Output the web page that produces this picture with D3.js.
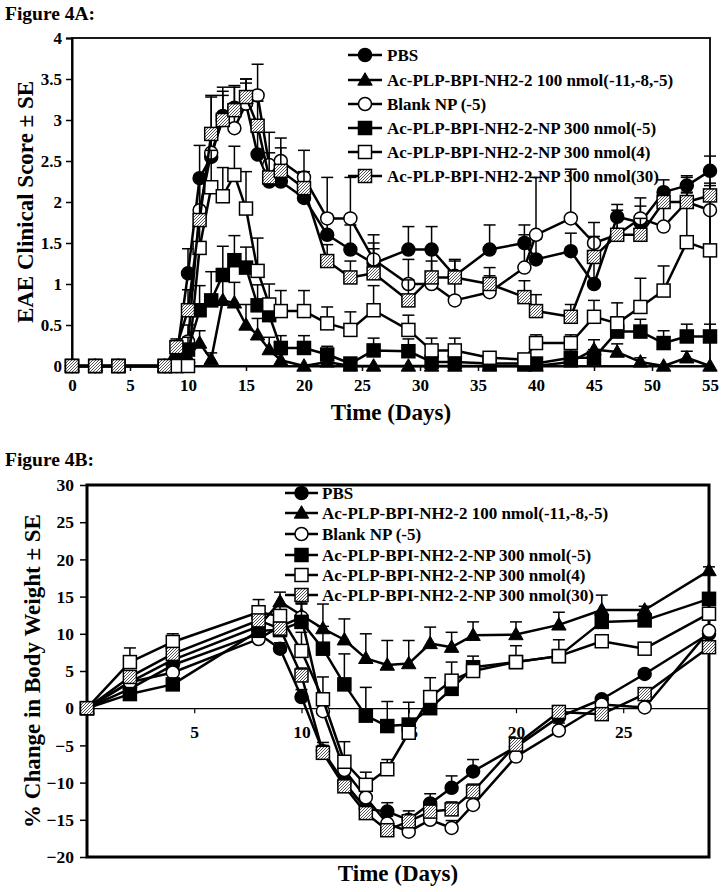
<!DOCTYPE html>
<html><head><meta charset="utf-8">
<script src="https://cdn.jsdelivr.net/npm/d3@7"></script>
<style>
body{margin:0;background:#fff}
text{font-family:"Liberation Serif","Times New Roman",serif;font-weight:bold;fill:#000}
</style>
</head><body>
<svg id="c" width="724" height="892"></svg>
<script>
// ---------- DATA ----------
const seriesNames = [
  "PBS",
  "Ac-PLP-BPI-NH2-2 100 nmol(-11,-8,-5)",
  "Blank NP (-5)",
  "Ac-PLP-BPI-NH2-2-NP 300 nmol(-5)",
  "Ac-PLP-BPI-NH2-2-NP 300 nmol(4)",
  "Ac-PLP-BPI-NH2-2-NP 300 nmol(30)"
];
const seriesSymbols = ["circleFilled","triangle","circleOpen","squareFilled","squareOpen","squareHatched"];

// Figure 4A: EAE clinical score
const daysA = [0,2,4,8,9,10,11,12,13,14,15,16,17,18,20,22,24,26,29,31,33,36,39,40,43,45,47,49,51,53,55];
const pbsA    = [0,0,0,0,0.1,1.13,2.29,2.55,3.05,3.15,3.2,2.58,2.25,2.25,2.05,1.6,1.42,1.25,1.42,1.42,1.1,1.42,1.5,1.3,1.4,1.0,1.82,1.75,2.12,2.2,2.38];
const pbsA_se = [0,0,0,0,0.1,0.3,0.4,0.35,0.35,0.25,0.25,0.35,0.25,0.2,0.2,0.25,0.3,0.25,0.28,0.28,0.2,0.3,0.22,0.25,0.22,0.3,0.15,0.2,0.15,0.12,0.18];
const triA    = [0,0,0,0,0,0.1,0.28,0.08,0.8,0.77,0.5,0.38,0.2,0.07,0,0.05,0,0,0,0,0,0,0,0,0.05,0.2,0.17,0.05,0,0.1,0];
const triA_se = [0,0,0,0,0,0.1,0.15,0.08,0.3,0.25,0.25,0.2,0.15,0.07,0,0.05,0,0,0,0,0,0,0,0,0.05,0.12,0.1,0.05,0,0.08,0];
const blankA    = [0,0,0,0,0,0.3,1.9,2.6,3.0,2.9,3.2,3.3,2.45,2.5,2.3,1.8,1.8,1.3,1.0,1.0,0.8,0.9,1.2,1.6,1.8,1.5,1.6,1.8,1.7,2.0,1.9];
const blankA_se = [0,0,0,0,0,0.2,0.4,0.7,0.3,0.3,0.3,0.38,0.4,0.28,0.33,0.5,0.5,0.3,0.3,0.4,0.3,0.2,0.4,0.7,0.6,0.25,0.3,0.25,0.3,0.3,0.3];
const np5A    = [0,0,0,0,0,0.2,0.68,0.8,1.11,1.29,1.2,0.74,0.62,0.22,0.22,0.14,0.03,0.19,0.18,0.05,0.05,0.03,0.03,0.03,0.1,0.1,0.42,0.42,0.28,0.36,0.36];
const np5A_se = [0,0,0,0,0,0.15,0.3,0.35,0.35,0.3,0.25,0.25,0.2,0.15,0.15,0.1,0.03,0.15,0.15,0.05,0.05,0.03,0.03,0.03,0.1,0.1,0.18,0.15,0.15,0.15,0.15];
const np4A    = [0,0,0,0,0,0,1.44,2.18,2.07,2.33,1.92,1.16,0.75,0.67,0.67,0.52,0.44,0.68,0.44,0.19,0.19,0.1,0.08,0.28,0.28,0.6,0.52,0.72,0.92,1.51,1.41];
const np4A_se = [0,0,0,0,0,0,0.3,0.45,0.35,0.35,0.45,0.4,0.25,0.25,0.25,0.2,0.22,0.3,0.18,0.15,0.15,0.05,0.05,0.1,0.1,0.2,0.25,0.35,0.3,0.6,0.6];
const np30A    = [0,0,0,0,0.23,0.68,1.78,2.83,3.0,3.12,3.28,2.93,2.3,2.38,2.17,1.28,1.08,1.13,0.8,1.08,1.08,1.0,0.84,0.67,0.6,1.33,1.6,1.6,2.0,2.0,2.08];
const np30A_se = [0,0,0,0,0.1,0.25,0.5,0.45,0.35,0.3,0.22,0.3,0.3,0.28,0.2,0.2,0.2,0.3,0.25,0.2,0.2,0.2,0.2,0.2,0.15,0.25,0.2,0.2,0.15,0.12,0.15];
const ticksAx = [0,5,10,15,20,25,30,35,40,45,50,55];
const ticksAy = [0,0.5,1,1.5,2,2.5,3,3.5,4];

// Figure 4B: % change in body weight
const daysB = [0,2,4,8,9,10,11,12,13,14,15,16,17,18,20,22,24,26,29];
const pbsB    = [0,2.6,5.8,10,8.0,1.5,-5.8,-10,-13.5,-13.9,-15,-12.8,-10.7,-8.5,-5.2,-1.2,1.2,4.6,10];
const pbsB_se = [0,0.5,0.5,0.8,0.8,1,1.2,1.2,1.2,1.2,1.2,1.3,1.6,1.6,1,0.8,0.5,0.5,0.5];
const triB    = [0,3.5,6.5,11,14.3,12.5,10.7,9.2,6.7,5.8,6,8.7,8.2,9.8,9.9,11.2,13.2,13.2,18.5];
const triB_se = [0,0.5,0.5,1,1.3,1.5,3.3,2.8,3.3,3.3,3.1,2.2,2.0,1.8,1.7,1.7,2.0,0.5,0.5];
const blankB    = [0,3.5,4.8,9.3,11,12.2,-0.4,-8.3,-12,-15.5,-16.6,-15,-16.1,-13,-6.5,-3,0.5,0.1,10.4];
const blankB_se = [0,0.5,0.5,0.5,0.8,2.1,1,1,1,1,1,1,1,1,1,1,0.5,0.5,0.5];
const np5B    = [0,1.9,3.2,10.4,10.5,11.6,8.0,3.2,-1.0,-2.4,-2.2,0.0,2.6,5.5,6.2,7.0,11.6,11.8,14.7];
const np5B_se = [0,0.5,0.5,0.8,1,2.5,3,4.1,3.8,3.3,3.0,0.8,0.8,0.8,0.5,0.5,0.5,0.5,0.5];
const np4B    = [0,6.2,8.9,12.9,12.4,7.7,1.2,-7.2,-10.3,-8.2,-3.3,1.5,3.7,5.0,6.2,7.0,9.0,8.0,12.7];
const np4B_se = [0,1.9,1.1,1.7,1.5,2.5,3.0,2.7,1.7,1.3,1.5,2.6,2.5,2.0,2.2,2.2,0.5,0.5,0.5];
const np30B    = [0,4.2,7.3,11.8,10.7,4.4,-6.0,-10.5,-14.1,-16.4,-15.2,-13.9,-13.6,-11.2,-4.9,-0.5,-0.8,1.9,8.2];
const np30B_se = [0,0.5,0.5,0.6,0.8,1,1,1,1,0.7,0.9,1,1,1,0.8,0.5,0.5,0.5,0.5];
const ticksBx = [5,10,15,20,25];
const ticksBy = [-20,-15,-10,-5,0,5,10,15,20,25,30];

// ---------- DRAW ----------
const svg = d3.select("#c");
const defs = svg.append("defs");
const pat = defs.append("pattern").attr("id","hatch").attr("patternUnits","userSpaceOnUse")
  .attr("width",3).attr("height",3);
pat.append("rect").attr("width",3).attr("height",3).attr("fill","#fff");
pat.append("path").attr("d","M-1,1 l2,-2 M0,3 l3,-3 M2,4 l2,-2").attr("stroke","#444").attr("stroke-width",0.9);

function marker(g, type, x, y) {
  const s = 13;
  if (type === "circleFilled" || type === "circleOpen") {
    g.append("circle").attr("cx",x).attr("cy",y).attr("r",6.5)
      .attr("fill", type === "circleFilled" ? "#000" : "#fff").attr("stroke","#000").attr("stroke-width",1.5);
  } else if (type === "triangle") {
    g.append("path").attr("d", d3.symbol(d3.symbolTriangle, 90)())
      .attr("transform",`translate(${x},${y+1})`).attr("fill","#000").attr("stroke","#000").attr("stroke-width",1);
  } else {
    g.append("rect").attr("x",x-s/2).attr("y",y-s/2).attr("width",s).attr("height",s)
      .attr("fill", type === "squareFilled" ? "#000" : type === "squareOpen" ? "#fff" : "url(#hatch)")
      .attr("stroke","#000").attr("stroke-width",1.5);
  }
}

function drawSeries(g, x, y, days, vals, se, type) {
  const s = g.append("g");
  // error bars (positive only)
  days.forEach((d,i) => {
    if (se[i] > 0) {
      const px = x(d), y0 = y(vals[i]), y1 = y(vals[i] + se[i]);
      s.append("line").attr("x1",px).attr("x2",px).attr("y1",y0).attr("y2",y1).attr("stroke","#000").attr("stroke-width",1.5);
      s.append("line").attr("x1",px-6).attr("x2",px+6).attr("y1",y1).attr("y2",y1).attr("stroke","#000").attr("stroke-width",1.5);
    }
  });
  const line = d3.line().x((d,i)=>x(d)).y((d,i)=>y(vals[i]));
  s.append("path").attr("d", line(days)).attr("fill","none").attr("stroke","#000").attr("stroke-width",2.5).attr("stroke-linejoin","round");
  days.forEach((d,i) => marker(s, type, x(d), y(vals[i])));
}

function legend(g, x1, x2, tx, ys) {
  seriesNames.forEach((name,i) => {
    g.append("line").attr("x1",x1).attr("x2",x2).attr("y1",ys[i]).attr("y2",ys[i]).attr("stroke","#000").attr("stroke-width",2.5);
    marker(g, seriesSymbols[i], (x1+x2)/2, ys[i]);
    g.append("text").attr("x",tx).attr("y",ys[i]+6).attr("font-size",17).text(name);
  });
}

// ===== Figure 4A =====
svg.append("text").attr("x",5).attr("y",20).attr("font-size",19.5).text("Figure 4A:");
const xA = d3.scaleLinear().domain([0,55]).range([72,710]);
const yA = d3.scaleLinear().domain([0,4]).range([366,38]);
const gA = svg.append("g");
gA.append("rect").attr("x",72).attr("y",38).attr("width",710-72).attr("height",366-38)
  .attr("fill","none").attr("stroke","#000").attr("stroke-width",1.8);
const axAy = gA.append("g").attr("transform","translate(72,0)")
  .call(d3.axisLeft(yA).tickValues(ticksAy).tickSize(6).tickFormat(d3.format("")));
const axAx = gA.append("g").attr("transform","translate(0,366)")
  .call(d3.axisBottom(xA).tickValues(ticksAx).tickSize(5).tickPadding(8).tickFormat(d3.format("d")));
[axAy, axAx].forEach(a => {
  a.select(".domain").attr("stroke-width",2);
  a.selectAll(".tick line").attr("stroke-width",1.5);
  a.selectAll("text").attr("font-size",17).attr("font-family",null);
});
axAy.selectAll("text").attr("dx","-1");
gA.append("text").attr("transform","translate(33,202) rotate(-90)").attr("text-anchor","middle")
  .attr("font-size",23).text("EAE Clinical Score ± SE");
gA.append("text").attr("x",391).attr("y",420).attr("text-anchor","middle").attr("font-size",23).text("Time (Days)");

const dataA = [[pbsA,pbsA_se],[triA,triA_se],[blankA,blankA_se],[np5A,np5A_se],[np4A,np4A_se],[np30A,np30A_se]];
dataA.forEach((d,i) => drawSeries(gA, xA, yA, daysA, d[0], d[1], seriesSymbols[i]));
legend(gA, 348, 382, 387, [55,80,104,128,152,176]);

// ===== Figure 4B =====
svg.append("text").attr("x",5).attr("y",466).attr("font-size",19.5).text("Figure 4B:");
const xB = d3.scaleLinear().domain([0,29]).range([87,709]);
const yB = d3.scaleLinear().domain([-20,30]).range([857,485]);
const gB = svg.append("g");
gB.append("rect").attr("x",87).attr("y",485).attr("width",709-87).attr("height",857-485)
  .attr("fill","none").attr("stroke","#000").attr("stroke-width",3);
const axBy = gB.append("g").attr("transform","translate(87,0)")
  .call(d3.axisLeft(yB).tickValues(ticksBy).tickSize(7).tickPadding(6).tickFormat(d3.format("d")));
axBy.select(".domain").remove();
axBy.selectAll(".tick line").attr("stroke-width",1.5);
axBy.selectAll("text").attr("font-size",17.5).attr("font-family",null);
const axBx = gB.append("g").attr("transform",`translate(0,${yB(0)})`)
  .call(d3.axisBottom(xB).tickValues(ticksBx).tickSize(5).tickPadding(12).tickFormat(d3.format("d")));
axBx.select(".domain").attr("stroke-width",1.2);
axBx.selectAll(".tick line").attr("stroke-width",1.2);
axBx.selectAll("text").attr("font-size",17.5).attr("font-family",null);
gB.append("text").attr("transform","translate(40,671) rotate(-90)").attr("text-anchor","middle")
  .attr("font-size",23).text("% Change in Body Weight ± SE");
gB.append("text").attr("x",398).attr("y",881).attr("text-anchor","middle").attr("font-size",23).text("Time (Days)");

const dataB = [[pbsB,pbsB_se],[triB,triB_se],[blankB,blankB_se],[np5B,np5B_se],[np4B,np4B_se],[np30B,np30B_se]];
dataB.forEach((d,i) => drawSeries(gB, xB, yB, daysB, d[0], d[1], seriesSymbols[i]));
legend(gB, 285, 318, 322, [493,513,534,555,575,595]);
</script>
</body></html>
